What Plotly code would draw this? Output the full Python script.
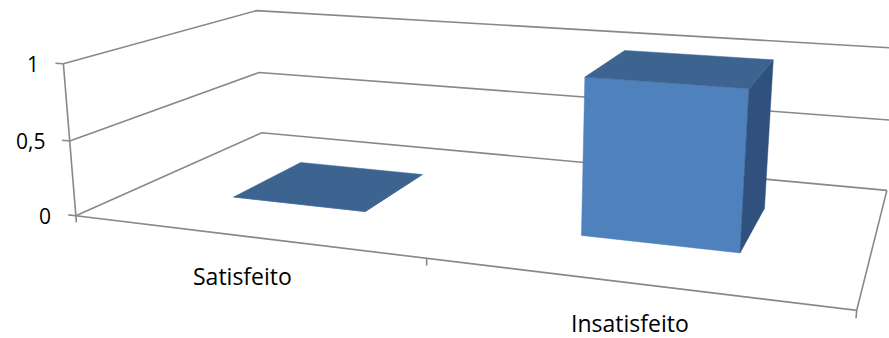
import numpy as np
import plotly.graph_objects as go

categories = ["Satisfeito", "Insatisfeito"]
values = [0, 1]
value_ticks = [0, 0.5, 1]
value_tick_labels = ["0", "0,5", "1"]

# perspective camera (3x4 projection matrix) mapping (category, depth, value) -> page pixels
CAMERA = np.array([
    [311.443, 253.385, -14.4293, 75.8694],
    [18.6512, -48.7771, -153.958, 215.816],
    [-0.0921748, 0.257922, -0.0302799, 1.0],
])

def proj(x, y, z):
    h = CAMERA @ np.array([x, y, z, 1.0])
    return h[0] / h[2], h[1] / h[2]

GRID = "#888888"
fig = go.Figure()

def line3d(pts, color=GRID, width=1.6):
    xs, ys = zip(*[proj(*q) for q in pts])
    fig.add_trace(go.Scatter(x=xs, y=ys, mode="lines", line=dict(color=color, width=width),
                             hoverinfo="skip", showlegend=False))

def face(pts, color):
    xs, ys = zip(*[proj(*q) for q in pts])
    fig.add_trace(go.Scatter(x=list(xs) + [xs[0]], y=list(ys) + [ys[0]], mode="lines", fill="toself",
                             fillcolor=color, line=dict(color=color, width=0.5),
                             hoverinfo="skip", showlegend=False))

n = len(categories)
vmax = max(value_ticks)
# walls / gridlines
for t in value_ticks:
    line3d([(0, 0, t), (0, 1, t), (n, 1, t)])
# floor front and right edges
line3d([(0, 0, 0), (n, 0, 0), (n, 1, 0)])
# value axis
line3d([(0, 0, 0), (0, 0, vmax)])
for t in value_ticks:
    line3d([(-0.024, 0, t), (0, 0, t)])
for k in range(n + 1):
    line3d([(k, 0, 0), (k, 0, -0.045)])

# 3D columns
gap = 0.3
for i, v in enumerate(values):
    x0, x1 = i + gap, i + 1 - gap
    y0, y1 = gap, 1 - gap
    face([(x0, y0, 0), (x1, y0, 0), (x1, y0, v), (x0, y0, v)], "#4f81bd")
    face([(x1, y0, 0), (x1, y1, 0), (x1, y1, v), (x1, y0, v)], "#30517d")
    face([(x0, y0, v), (x1, y0, v), (x1, y1, v), (x0, y1, v)], "#3d6491")

font = "Open Sans, Noto Sans, sans-serif"
for t, lab in zip(value_ticks, value_tick_labels):
    px, py = proj(-0.024, 0, t)
    fig.add_annotation(x=px - 15, y=py + 1, text=lab, showarrow=False, xanchor="right", yanchor="middle",
                       font=dict(family=font, size=21, color="#000000"))
for i, c in enumerate(categories):
    px, py = proj(i + 0.5, 0, 0)
    fig.add_annotation(x=px, y=py + 40, text=c, showarrow=False, xanchor="center", yanchor="middle",
                       font=dict(family=font, size=23, color="#000000"))

fig.update_layout(width=889, height=338, margin=dict(l=0, r=0, t=0, b=0),
                  paper_bgcolor="white", plot_bgcolor="white",
                  xaxis=dict(range=[0, 889], visible=False),
                  yaxis=dict(range=[338, 0], visible=False))
fig.write_html("out.html")
